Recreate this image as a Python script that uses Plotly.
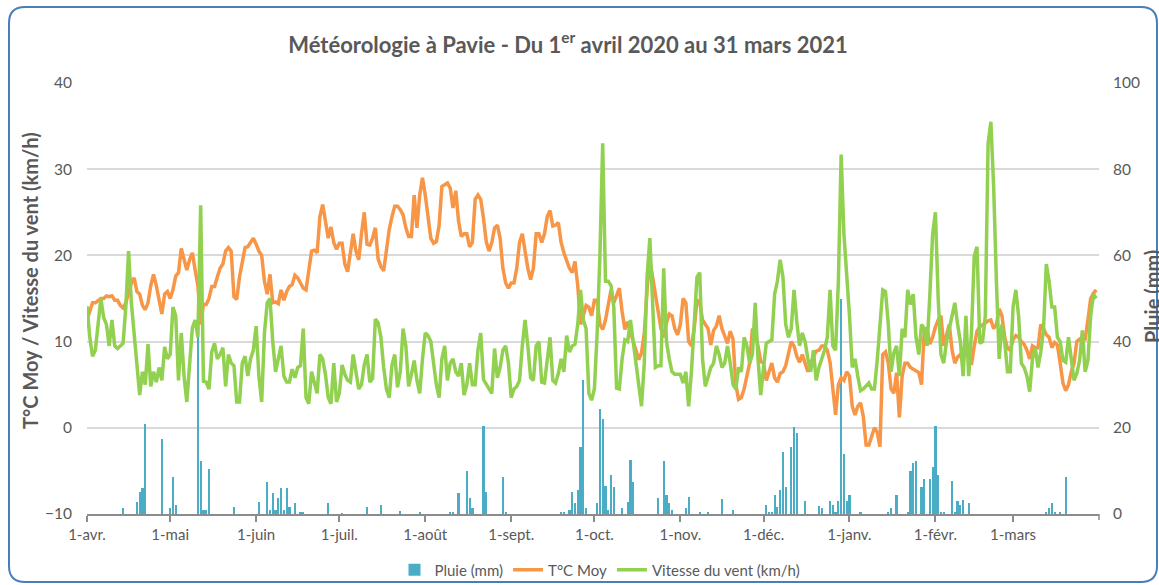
import pandas as pd
import plotly.graph_objects as go

# ---------------- data ----------------
start_date = "2020-04-01"
n_days = 365

temp_moy = [
    12.5, 13.5, 14.5, 14.5, 14.8, 15, 15, 15.3, 15.2, 15.3,
    14.8, 14.8, 14.2, 13.9, 14.5, 15.5, 16.8, 17.4, 15.8, 15.5,
    14.2, 13.7, 14.5, 16.5, 17.8, 16.5, 15, 13.2, 15.5, 15.8,
    15, 16, 17.6, 18, 20.8, 19.5, 18.3, 19.5, 20.3, 18.3,
    16.5, 12, 14.3, 14.3, 15, 16.4, 16.4, 17.5, 18.5, 19,
    20.5, 20.9, 20.5, 15.2, 14.9, 17.5, 19.5, 20.9, 21, 21.5,
    22, 21.3, 20.5, 20, 17, 15.5, 17.8, 14.5, 14.6, 14.4,
    16, 14.8, 15.8, 16.4, 16.6, 17.7, 17.4, 16.8, 16.2, 16,
    18.5, 20.5, 20.6, 20.3, 24.5, 25.9, 24, 22, 23.3, 21.5,
    20.7, 21.4, 21.4, 19, 18.1, 20.5, 22.5, 20.5, 19.5, 22.5,
    25, 21.3, 21.2, 22, 23.2, 19.6, 18.7, 18.2, 20.5, 23,
    24.5, 25.7, 25.7, 25.3, 24.7, 23.2, 22.2, 22.2, 27, 23.2,
    27, 29, 27, 24.7, 22, 21.4, 21.6, 23.5, 28, 28.2,
    28.4, 27.8, 25.5, 27.5, 24, 22.2, 22.5, 22.5, 21, 21.5,
    26.5, 27, 26.5, 24.3, 21.6, 20.5, 21.5, 23.2, 23.5, 22,
    18.5, 16.8, 16.2, 16.8, 16.8, 18.5, 21.5, 22.5, 20.5, 18.5,
    17.2, 18.5, 22.5, 22.5, 21.5, 22.5, 24.5, 25.2, 23.4, 23.5,
    23.8, 21.5, 20.3, 19.3, 18.5, 18, 19.3, 16.5, 12, 13,
    14.2, 14, 13, 14.8, 14.8, 12, 11.4, 12.5, 14.5, 16,
    14.5, 15.5, 16.2, 13.5, 11.4, 12.3, 11, 10, 9, 7.9,
    8.7, 11, 16, 19.5, 17.5, 15.5, 13, 11.5, 10.5, 12.2,
    13.2, 13, 11.5, 10.8, 12, 15, 14.5, 10, 9.5, 11.5,
    14.8, 14.6, 12.5, 12, 11.5, 9.6, 11.3, 11.8, 13, 11.5,
    10.5, 9.8, 11.2, 10.3, 5, 3.3, 3.5, 4.5, 6, 7.5,
    11.5, 11, 9.5, 7.7, 7.5, 5.5, 6.5, 7.5, 5.8, 5.3,
    6.3, 6.5, 7.2, 8.5, 10, 9.5, 8.3, 7.6, 8.5, 7.5,
    6.5, 7.5, 8.2, 8.9, 9, 9.5, 9.5, 9, 7.6, 4,
    1.5, 5, 5.8, 5.5, 6.5, 6, 2.5, 1.5, 2.5, 2.9,
    1.3, -2, -2, -1, 0, -0.5, -2.2, 8.5, 8.8, 7.5,
    4.5, 4, 6.4, 1.2, 6, 7.5, 7.5, 7, 6.8, 6.7,
    6.4, 5, 11.5, 11.5, 9.7, 10.5, 11.7, 12.5, 13, 9.5,
    10.8, 12, 9, 7.5, 8.2, 8.5, 7.5, 10, 8, 7.3,
    9.5, 11.2, 11.7, 12, 12.2, 12.4, 12.5, 11.5, 12, 13.8,
    13, 10.5, 9.2, 9, 10.2, 10.7, 10.5, 10, 9.7, 9,
    8, 9.5, 9.3, 9.3, 12, 11.5, 10.8, 10.5, 9.3, 9.9,
    9.6, 7.5, 5.2, 4.3, 5, 6.5, 7.5, 10, 10.3, 10.3,
    10.3, 12.5, 15, 15.6, 16,
]

vitesse_vent = [
    14.1, 10.5, 8.3, 9, 12, 15, 12.8, 12, 9.5, 12.5,
    9.5, 9.2, 9.5, 9.8, 14, 20.5, 14.5, 11, 6.5, 3.8,
    6.5, 5, 9.7, 4.8, 6.5, 5.3, 7, 5.5, 9.4, 8,
    8.5, 14, 13, 5.5, 11, 6, 3, 7.5, 11.6, 12.5,
    10.5, 25.8, 5.4, 5.3, 4.5, 8.8, 9.8, 8, 8.5, 9.3,
    4.8, 8.5, 7.5, 7.2, 3, 3, 7.5, 8.3, 6, 8,
    9, 11.8, 6, 3, 11, 14.5, 15, 10, 6.5, 8,
    9.5, 6, 5.3, 5.3, 6.8, 5.8, 7, 7.2, 11.5, 3.5,
    2.8, 6.5, 5.4, 4, 8.5, 8, 6.2, 3.5, 2.8, 7.5,
    3, 4, 7.3, 6.2, 5.5, 5.3, 8.5, 6.2, 4.5, 5,
    7.3, 8.5, 5.3, 5.7, 12.6, 12.2, 10.5, 7, 4.5, 3.5,
    7.3, 8.5, 4.7, 6.5, 11.5, 9.5, 4.8, 6.2, 7.8, 5.5,
    4, 8, 11, 10.7, 10, 7.5, 5, 3.5, 8, 9.5,
    5.5, 7.5, 8, 6.5, 6, 7.5, 3.8, 5, 7.5, 5,
    5, 9, 11, 5.6, 5, 4.5, 4, 9.2, 5.8, 7,
    9, 9.5, 7.5, 3.5, 4.5, 4.8, 5.5, 9.5, 12.5, 9.5,
    5.8, 5.5, 9.5, 10, 5.3, 5.2, 7.5, 10.5, 5.5, 5.2,
    6.3, 8, 6.5, 10.7, 8.8, 9.5, 9.7, 12, 16, 12.5,
    11.5, 4, 3.2, 4.5, 11, 20, 33, 17, 17, 16.5,
    14, 4.6, 4.5, 8, 10.2, 10, 12.5, 10, 7.5, 5,
    2.5, 7.5, 17.5, 22, 14.5, 7, 7.2, 7.2, 18.5, 10,
    8, 6.5, 6.2, 6.2, 6.2, 5.2, 6.5, 2.5, 6.5, 12,
    17.5, 18, 8, 4.8, 6, 7, 7.5, 9.5, 8.5, 7,
    7.5, 9.5, 7.5, 5, 4.5, 7, 6.5, 10.5, 9.5, 7.5,
    8.5, 14.5, 8, 3.8, 7, 9.8, 10, 10.2, 15.5, 17,
    19.5, 17.5, 12, 10.5, 11.5, 16, 12.3, 9.5, 11, 10,
    8, 6.5, 9, 5.5, 7, 8, 9, 10.5, 16, 9.5,
    9, 17, 31.7, 22.5, 18, 13, 7, 8, 6, 4.3,
    4.5, 4.8, 5.2, 4.5, 4.5, 7.8, 11.5, 16, 15.8, 12,
    6.5, 8.7, 9.5, 6, 11.5, 10.5, 16, 14.3, 15.5, 10.5,
    8.5, 12, 11.5, 9.5, 15.5, 22.5, 25, 15, 8.5, 7.5,
    10, 11.5, 12.7, 14.5, 12, 10, 6, 13, 6, 11,
    19.9, 21, 9.8, 10, 13, 33, 35.5, 28, 17, 8,
    12, 10, 6.5, 6.5, 14, 16, 13, 7.5, 7, 6,
    4.2, 8, 9.3, 7, 8.8, 11.5, 19, 17, 14, 14,
    10.5, 10, 7.8, 7.6, 10.5, 8, 5.5, 6.3, 7.8, 11.3,
    6.5, 7.8, 13, 15.5, 15,
]

# rainy days: day index from 1 April 2020, and rain in mm
pluie_jour = [
    13, 18, 19, 20, 21, 27, 30, 31, 32, 40, 41, 42, 43, 44, 53, 62,
    65, 66, 67, 68, 69, 70, 71, 72, 73, 75, 77, 78, 87, 92, 101, 106,
    113, 120, 131, 132, 134, 137, 138, 139, 143, 144, 150, 151,
    171, 172, 174, 175, 176, 177, 178, 179, 180, 184, 185, 186, 187,
    188, 189, 190, 193, 195, 196, 197, 206, 208, 209, 210, 211, 216,
    217, 221, 224, 229, 233, 245, 246, 247, 248, 249, 250, 251, 252,
    254, 255, 256, 259, 264, 265, 268, 269, 270, 271, 272, 273, 274,
    275, 279, 289, 290, 292, 296, 297, 298, 299, 301, 302, 304, 305,
    306, 307, 308, 309, 312, 313, 314, 315, 316, 318, 346, 347, 348,
    349, 351, 353,
]
pluie_mm = [
    1.5, 2.9, 5, 6, 20.8, 17.3, 1.3, 8.7, 2, 45, 12.2, 1, 1, 10.4, 1.7, 2.9,
    7.5, 1, 4.8, 1, 3.6, 6, 1, 6, 1.7, 2.6, 0.5, 0.5, 2.6, 0.2, 1.7, 2.1,
    0.7, 0.5, 0.5, 0.3, 4.8, 10, 3.6, 1.3, 20.4, 5, 8.7, 0.4,
    0.5, 0.5, 0.9, 5, 2.5, 5.6, 15.6, 31, 1.3, 2.5, 24.3, 22, 6.5,
    1, 9, 6.3, 1.3, 2.9, 12.5, 7.5, 3.6, 12.2, 4.4, 2.5, 1, 1.3,
    3.9, 0.4, 0.5, 3.4, 0.9, 2.1, 0.5, 0.5, 4.4, 1.7, 5.6, 14.5, 6.3,
    15.6, 20.1, 18.9, 3.1, 1.9, 1.5, 3.1, 2.2, 0.5, 3.1, 50, 14, 3.1,
    4.4, 0.5, 0.5, 1.3, 4.4, 0.5, 10, 11.8, 12.4, 6.3, 8.1, 8.1, 10.8,
    20.4, 9, 0.5, 0.5, 7.7, 0.5, 3.1, 2.1, 3.3, 2.6, 0.5, 1.3, 2.6,
    0.5, 0.5, 8.5,
]

mois_ticks = ["2020-04-01", "2020-05-01", "2020-06-01", "2020-07-01",
              "2020-08-01", "2020-09-01", "2020-10-01", "2020-11-01",
              "2020-12-01", "2021-01-01", "2021-02-01", "2021-03-01"]
mois_labels = ["1-avr.", "1-mai", "1-juin", "1-juil.", "1-août", "1-sept.",
               "1-oct.", "1-nov.", "1-déc.", "1-janv.", "1-févr.", "1-mars"]

# ---------------- figure ----------------
dates = pd.date_range(start_date, periods=n_days, freq="D")
rain_dates = [dates[i] for i in pluie_jour]

W, H = 1159, 585
L, R, T, B = 87, 60, 83, 71
pw, ph = W - L - R, H - T - B

def px(x):
    return (x - L) / pw

def py(y):
    return (H - B - y) / ph

FONT = "Lato, 'Open Sans', sans-serif"
GREY = "#595959"
AXC = "#8c8c8c"

fig = go.Figure()
fig.add_trace(go.Bar(
    x=rain_dates, y=pluie_mm, name="Pluie (mm)",
    marker=dict(color="#4BACC6", line=dict(width=0)),
    width=0.8 * 86400000, yaxis="y", xaxis="x",
))
fig.add_trace(go.Scatter(
    x=dates, y=temp_moy, name="T°C Moy", mode="lines",
    line=dict(color="#F79646", width=3.5), yaxis="y2",
))
fig.add_trace(go.Scatter(
    x=dates, y=vitesse_vent, name="Vitesse du vent (km/h)", mode="lines",
    line=dict(color="#92D050", width=3.5), yaxis="y2",
))

# rounded frame
x0, y0, x1, y1, r = 9, 7, 1157, 582, 16
path = (
    f"M {px(x0 + r)},{py(y0)} L {px(x1 - r)},{py(y0)} "
    f"Q {px(x1)},{py(y0)} {px(x1)},{py(y0 + r)} "
    f"L {px(x1)},{py(y1 - r)} Q {px(x1)},{py(y1)} {px(x1 - r)},{py(y1)} "
    f"L {px(x0 + r)},{py(y1)} Q {px(x0)},{py(y1)} {px(x0)},{py(y1 - r)} "
    f"L {px(x0)},{py(y0 + r)} Q {px(x0)},{py(y0)} {px(x0 + r)},{py(y0)} Z"
)

fig.update_layout(
    width=W, height=H,
    margin=dict(l=L, r=R, t=T, b=B, pad=0, autoexpand=False),
    paper_bgcolor="white", plot_bgcolor="white",
    font=dict(family=FONT, color=GREY, size=15),
    title=dict(
        text="<b>Météorologie à Pavie - Du 1<sup>er</sup> avril 2020 au 31 mars 2021</b>",
        x=568 / W, xanchor="center", y=1 - 45 / H, yanchor="middle",
        font=dict(family=FONT, size=22, color=GREY),
    ),
    xaxis=dict(
        type="date", range=["2020-04-01", "2021-04-01"],
        tickmode="array", tickvals=mois_ticks, ticktext=mois_labels,
        ticks="outside", ticklen=6, tickcolor=AXC, tickwidth=1.5,
        showline=True, linecolor=AXC, linewidth=1.5,
        showgrid=False, zeroline=False,
        tickfont=dict(size=15, color=GREY),
    ),
    yaxis=dict(
        side="right", range=[0, 100], dtick=20, showgrid=False,
        zeroline=False, showline=False, ticks="", ticklabelstandoff=13,
        tickfont=dict(size=15.5, color=GREY),
    ),
    yaxis2=dict(
        side="left", overlaying="y", range=[-10, 40], dtick=10,
        showgrid=True, gridcolor="#d9d9d9", gridwidth=1.5,
        zeroline=False, showline=False, ticks="", ticklabelstandoff=14,
        tickfont=dict(size=15.5, color=GREY),
    ),
    bargap=0,
    legend=dict(
        orientation="h", x=px(600), xanchor="center", y=py(570), yanchor="middle",
        font=dict(size=15, color=GREY), bgcolor="rgba(0,0,0,0)",
        traceorder="normal",
    ),
    shapes=[
        dict(type="path", xref="paper", yref="paper", path=path,
             line=dict(color="#4A7EBB", width=2), fillcolor="rgba(0,0,0,0)",
             layer="above"),
        dict(type="line", xref="paper", yref="paper", x0=1, x1=1,
             y0=0, y1=py(520), line=dict(color=AXC, width=1.5)),
    ],
    annotations=[
        dict(text="<b>T°C Moy / Vitesse du vent (km/h)</b>", textangle=-90,
             xref="paper", yref="paper", x=px(30), y=py(281),
             xanchor="center", yanchor="middle", showarrow=False,
             font=dict(family=FONT, size=20, color=GREY)),
        dict(text="<b>Pluie (mm)</b>", textangle=-90,
             xref="paper", yref="paper", x=px(1152), y=py(297),
             xanchor="center", yanchor="middle", showarrow=False,
             font=dict(family=FONT, size=20, color=GREY)),
    ],
)

fig.write_html("out.html", config={"displayModeBar": False},
               post_script="document.body.style.margin='0';document.body.style.overflow='hidden';")
